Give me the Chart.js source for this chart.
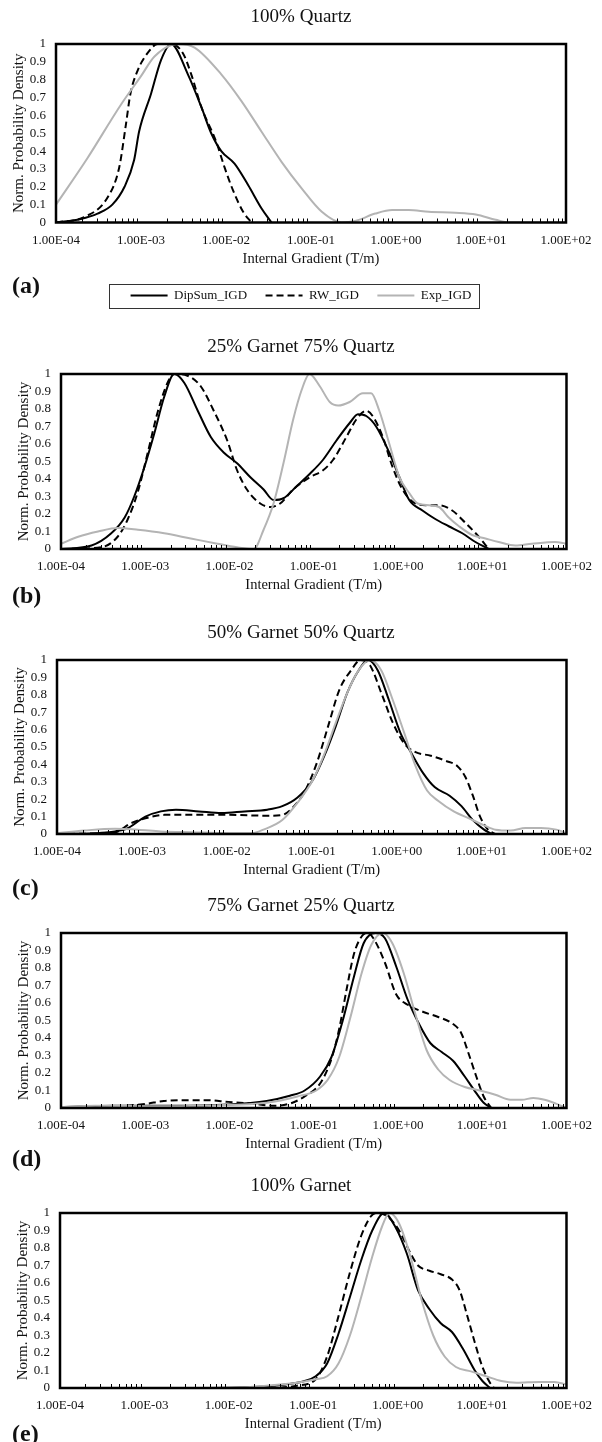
<!DOCTYPE html>
<html>
<head>
<meta charset="utf-8">
<script src="https://cdn.jsdelivr.net/npm/chart.js@4.4.1/dist/chart.umd.min.js"></script>
<style>
  html, body { margin: 0; padding: 0; background: #fff; }
  body { width: 602px; height: 1442px; position: relative; overflow: hidden; }
  canvas { position: absolute; left: 0; }
  .tag { position: absolute; left: 12px; font: bold 24px "Liberation Serif", "Times New Roman", serif; color: #111; line-height: 24px; }
</style>
</head>
<body>
<canvas id="cA"></canvas>
<canvas id="cB"></canvas>
<canvas id="cC"></canvas>
<canvas id="cD"></canvas>
<canvas id="cE"></canvas>
<script>
const seriesNames = ["DipSum_IGD", "RW_IGD", "Exp_IGD"];
const panelTitles = ["100% Quartz", "25% Garnet 75% Quartz", "50% Garnet 50% Quartz", "75% Garnet 25% Quartz", "100% Garnet"];
const panelTags = ["(a)", "(b)", "(c)", "(d)", "(e)"];
const xTickValues = [1e-4, 1e-3, 1e-2, 1e-1, 1e0, 1e1, 1e2];
const xTickLabels = ["1.00E-04", "1.00E-03", "1.00E-02", "1.00E-01", "1.00E+00", "1.00E+01", "1.00E+02"];
const xTitle = "Internal Gradient (T/m)";
const yTitle = "Norm. Probability Density";

// (a) 100% Quartz
const aDipX = [1e-4, 1.95e-4, 3.08e-4, 4.6e-4, 6.4e-4, 8.3e-4, 9.5e-4, 1.31e-3, 1.72e-3, 2.26e-3, 3.56e-3, 5.1e-3, 6.7e-3, 8.8e-3, 1.26e-2, 1.82e-2, 2.61e-2, 3.43e-2];
const aDipY = [0, 0.02, 0.05, 0.10, 0.20, 0.35, 0.51, 0.72, 0.91, 1.0, 0.83, 0.65, 0.50, 0.40, 0.33, 0.21, 0.08, 0];
const aRwX = [1e-4, 2.14e-4, 4.04e-4, 5.55e-4, 6.65e-4, 7.5e-4, 9.1e-4, 1.2e-3, 1.57e-3, 2.26e-3, 3.1e-3, 3.9e-3, 5.1e-3, 7.7e-3, 9.6e-3, 1.21e-2, 1.59e-2, 1.99e-2];
const aRwY = [0, 0.03, 0.14, 0.31, 0.55, 0.72, 0.85, 0.95, 1.0, 1.0, 0.95, 0.83, 0.65, 0.45, 0.31, 0.18, 0.06, 0];
const aExpX = [1e-4, 2.34e-4, 5.8e-4, 1.0e-3, 1.44e-3, 2.71e-3, 4.27e-3, 8.8e-3, 1.52e-2, 2.61e-2, 4.5e-2, 7.8e-2, 0.134, 0.23, 0.33, 0.57, 0.90, 1.41, 2.43, 5.0, 8.7, 14.9, 21.4, 100];
const aExpY = [0.10, 0.36, 0.66, 0.82, 0.93, 1.0, 0.98, 0.83, 0.68, 0.51, 0.34, 0.19, 0.06, 0, 0.008, 0.05, 0.07, 0.07, 0.06, 0.055, 0.045, 0.015, 0, 0];

// (b) 25% Garnet 75% Quartz
const bDipX = [1e-4, 2.3e-4, 3.95e-4, 5.7e-4, 7.4e-4, 9.8e-4, 1.28e-3, 1.68e-3, 2.21e-3, 2.9e-3, 4.2e-3, 6.0e-3, 8.6e-3, 1.23e-2, 1.77e-2, 2.54e-2, 3.33e-2, 4.37e-2, 6.3e-2, 9.0e-2, 0.129, 0.186, 0.267, 0.335, 0.42, 0.55, 0.79, 1.04, 1.36, 1.95, 2.8, 4.0, 5.8, 8.3, 11.9];
const bDipY = [0, 0.02, 0.09, 0.18, 0.30, 0.47, 0.66, 0.87, 1.0, 0.95, 0.79, 0.64, 0.55, 0.49, 0.41, 0.34, 0.28, 0.29, 0.36, 0.43, 0.51, 0.62, 0.72, 0.77, 0.76, 0.70, 0.55, 0.41, 0.28, 0.22, 0.17, 0.13, 0.09, 0.04, 0];
const bRwX = [1e-4, 3.0e-4, 4.7e-4, 6.2e-4, 8.2e-4, 1.07e-3, 1.4e-3, 1.84e-3, 2.21e-3, 3.17e-3, 4.55e-3, 6.5e-3, 9.4e-3, 1.23e-2, 1.61e-2, 2.32e-2, 3.04e-2, 3.99e-2, 5.7e-2, 9.0e-2, 0.129, 0.17, 0.244, 0.32, 0.42, 0.50, 0.66, 0.86, 1.13, 1.49, 2.14, 3.07, 4.4, 6.3, 9.1, 11.9];
const bRwY = [0, 0.01, 0.07, 0.17, 0.33, 0.55, 0.78, 0.95, 1.0, 0.99, 0.93, 0.79, 0.62, 0.45, 0.34, 0.26, 0.24, 0.26, 0.34, 0.41, 0.45, 0.51, 0.64, 0.74, 0.79, 0.76, 0.64, 0.47, 0.34, 0.27, 0.25, 0.25, 0.22, 0.15, 0.07, 0];
const bExpX = [1e-4, 1.6e-4, 2.75e-4, 4.7e-4, 8.2e-4, 1.68e-3, 3.47e-3, 7.2e-3, 1.23e-2, 1.94e-2, 2.54e-2, 3.33e-2, 4.37e-2, 5.7e-2, 7.2e-2, 8.9e-2, 0.118, 0.155, 0.195, 0.267, 0.383, 0.48, 0.60, 0.79, 1.04, 1.36, 1.71, 2.34, 3.07, 4.0, 5.3, 7.6, 10.9, 15.7, 24.6, 38.7, 73, 100];
const bExpY = [0.03, 0.07, 0.10, 0.12, 0.11, 0.09, 0.06, 0.03, 0.01, 0, 0.11, 0.26, 0.49, 0.74, 0.91, 1.0, 0.93, 0.84, 0.82, 0.84, 0.89, 0.89, 0.79, 0.60, 0.41, 0.32, 0.26, 0.25, 0.24, 0.18, 0.13, 0.08, 0.06, 0.04, 0.02, 0.03, 0.04, 0.03];

// (c) 50% Garnet 50% Quartz
const cDipX = [1e-4, 2.9e-4, 4.8e-4, 6.6e-4, 1.1e-3, 1.67e-3, 2.52e-3, 4.7e-3, 8.7e-3, 1.61e-2, 3.0e-2, 4.5e-2, 6.8e-2, 0.103, 0.141, 0.192, 0.261, 0.356, 0.46, 0.60, 0.81, 1.11, 1.51, 2.05, 2.8, 4.2, 5.8, 7.9, 10.7, 13.2];
const cDipY = [0, 0.005, 0.015, 0.03, 0.10, 0.13, 0.14, 0.13, 0.12, 0.13, 0.14, 0.16, 0.21, 0.31, 0.45, 0.62, 0.81, 0.94, 1.0, 0.94, 0.77, 0.58, 0.46, 0.35, 0.27, 0.22, 0.16, 0.08, 0.025, 0];
const cRwX = [1e-4, 4.8e-4, 7.3e-4, 1.1e-3, 1.85e-3, 3.8e-3, 1.07e-2, 3.0e-2, 4.5e-2, 6.2e-2, 8.4e-2, 0.115, 0.156, 0.212, 0.29, 0.375, 0.485, 0.66, 0.90, 1.23, 1.67, 2.52, 3.8, 5.2, 6.4, 7.9, 9.6, 11.9, 14.6];
const cRwY = [0, 0.01, 0.06, 0.09, 0.11, 0.11, 0.11, 0.105, 0.11, 0.16, 0.25, 0.41, 0.62, 0.83, 0.94, 1.0, 0.97, 0.81, 0.64, 0.52, 0.47, 0.45, 0.42, 0.39, 0.33, 0.22, 0.10, 0.025, 0];
const cExpX = [1e-4, 2.1e-4, 4.8e-4, 9.0e-4, 1.67e-3, 3.8e-3, 1.07e-2, 1.98e-2, 2.7e-2, 4.5e-2, 6.8e-2, 0.103, 0.141, 0.192, 0.261, 0.356, 0.485, 0.66, 0.90, 1.23, 1.67, 2.28, 3.1, 4.7, 7.1, 10.7, 14.6, 22, 33, 50, 76, 100];
const cExpY = [0.005, 0.02, 0.03, 0.025, 0.015, 0.01, 0.005, 0.005, 0.025, 0.08, 0.18, 0.31, 0.46, 0.64, 0.81, 0.94, 1.0, 0.94, 0.77, 0.58, 0.39, 0.25, 0.19, 0.13, 0.09, 0.05, 0.025, 0.02, 0.035, 0.035, 0.025, 0.005];

// (d) 75% Garnet 25% Quartz
const dDipX = [1e-4, 4.3e-4, 2.05e-3, 9.7e-3, 2.76e-2, 5.2e-2, 7.8e-2, 0.119, 0.162, 0.221, 0.30, 0.39, 0.54, 0.70, 0.95, 1.30, 1.78, 2.43, 3.3, 4.5, 6.2, 8.5, 10.4, 12.8];
const dDipY = [0.005, 0.013, 0.013, 0.02, 0.04, 0.07, 0.10, 0.18, 0.29, 0.50, 0.75, 0.94, 1.0, 0.97, 0.81, 0.62, 0.48, 0.37, 0.32, 0.27, 0.18, 0.085, 0.03, 0];
const dRwX = [1e-4, 4.3e-4, 9.9e-4, 1.66e-3, 2.8e-3, 5.2e-3, 9.7e-3, 1.82e-2, 3.4e-2, 5.2e-2, 7.8e-2, 0.119, 0.162, 0.20, 0.246, 0.30, 0.37, 0.435, 0.51, 0.70, 0.95, 1.30, 1.97, 3.0, 4.5, 5.6, 6.9, 8.5, 10.4, 12.8];
const dRwY = [0.003, 0.008, 0.023, 0.04, 0.045, 0.045, 0.035, 0.025, 0.013, 0.025, 0.066, 0.14, 0.28, 0.45, 0.68, 0.88, 0.98, 1.0, 0.97, 0.83, 0.65, 0.59, 0.55, 0.52, 0.48, 0.43, 0.31, 0.18, 0.066, 0];
const dExpX = [1e-4, 2.55e-4, 1.22e-3, 5.8e-3, 2.76e-2, 6.4e-2, 0.107, 0.146, 0.20, 0.273, 0.37, 0.48, 0.66, 0.86, 1.17, 1.60, 2.19, 3.0, 4.1, 6.2, 9.4, 14.3, 21.6, 29.5, 40.4, 55, 75, 100];
const dExpY = [0.005, 0.013, 0.01, 0.015, 0.03, 0.066, 0.10, 0.16, 0.29, 0.52, 0.77, 0.93, 1.0, 0.94, 0.77, 0.54, 0.33, 0.22, 0.16, 0.12, 0.10, 0.076, 0.047, 0.047, 0.057, 0.047, 0.025, 0];

// (e) 100% Garnet
const eDipX = [1e-4, 3.5e-3, 1.67e-2, 4.7e-2, 7.9e-2, 0.107, 0.146, 0.199, 0.272, 0.37, 0.50, 0.69, 0.94, 1.28, 1.74, 2.38, 3.24, 4.4, 6.0, 8.2, 10.1, 12.4];
const eDipY = [0, 0, 0.004, 0.02, 0.04, 0.067, 0.14, 0.31, 0.52, 0.73, 0.90, 1.0, 0.92, 0.77, 0.56, 0.45, 0.37, 0.32, 0.22, 0.10, 0.04, 0];
const eRwX = [1e-4, 2.8e-2, 6.4e-2, 0.107, 0.146, 0.199, 0.272, 0.37, 0.48, 0.56, 0.76, 1.04, 1.42, 1.74, 2.38, 3.24, 4.4, 5.4, 6.7, 8.2, 10.1, 12.4, 13.8];
const eRwY = [0, 0, 0.013, 0.05, 0.18, 0.41, 0.66, 0.87, 0.98, 1.0, 0.98, 0.90, 0.77, 0.70, 0.67, 0.65, 0.62, 0.56, 0.41, 0.26, 0.12, 0.03, 0];
const eExpX = [1e-4, 9.9e-3, 2.8e-2, 6.4e-2, 0.107, 0.146, 0.199, 0.272, 0.37, 0.50, 0.65, 0.80, 1.04, 1.42, 1.93, 2.64, 3.6, 4.9, 7.4, 11.2, 16.9, 25.6, 47.6, 72, 100];
const eExpY = [0, 0, 0.013, 0.03, 0.05, 0.067, 0.14, 0.30, 0.52, 0.75, 0.92, 1.0, 0.94, 0.75, 0.50, 0.30, 0.18, 0.12, 0.095, 0.067, 0.04, 0.03, 0.035, 0.035, 0.02];

const FONT = "'Liberation Serif', 'Times New Roman', serif";
const INK = "#111";
Chart.defaults.font.family = FONT;
Chart.defaults.color = INK;

const lineStyles = [
    { borderColor: "#000", borderWidth: 2, borderDash: [] },
    { borderColor: "#000", borderWidth: 2, borderDash: [7, 4] },
    { borderColor: "#b4b4b4", borderWidth: 2, borderDash: [] }
];

// plot-area placement for each panel (page pixels)
const panels = [
    { id: "cA", plotTop: 44, plotBottom: 222, plotLeft: 56, plotRight: 566, tagY: 273, legend: true,
      xs: [aDipX, aRwX, aExpX], ys: [aDipY, aRwY, aExpY] },
    { id: "cB", plotTop: 374, plotBottom: 549, plotLeft: 61, plotRight: 570, tagY: 583, legend: false,
      xs: [bDipX, bRwX, bExpX], ys: [bDipY, bRwY, bExpY] },
    { id: "cC", plotTop: 660, plotBottom: 834, plotLeft: 57, plotRight: 572, tagY: 875, legend: false,
      xs: [cDipX, cRwX, cExpX], ys: [cDipY, cRwY, cExpY] },
    { id: "cD", plotTop: 933, plotBottom: 1108, plotLeft: 61, plotRight: 572, tagY: 1146, legend: false,
      xs: [dDipX, dRwX, dExpX], ys: [dDipY, dRwY, dExpY] },
    { id: "cE", plotTop: 1213, plotBottom: 1388, plotLeft: 60, plotRight: 574, tagY: 1421, legend: false,
      xs: [eDipX, eRwX, eExpX], ys: [eDipY, eRwY, eExpY] }
];

const TITLE_BLOCK = 44;
const XAXIS_BLOCK = 48;
const LEGEND_BLOCK = 42;

// Excel-like frame plus inside minor ticks on the log axis
const framePlugin = {
    id: "frame",
    afterDatasetsDraw(chart) {
        const { ctx, chartArea: area, scales: { x } } = chart;
        ctx.save();
        ctx.strokeStyle = "#000";
        ctx.lineWidth = 1;
        for (let d = -4; d < 2; d++) {
            for (let k = 2; k <= 9; k++) {
                const px = Math.round(x.getPixelForValue(k * Math.pow(10, d))) + 0.5;
                ctx.beginPath();
                ctx.moveTo(px, area.bottom);
                ctx.lineTo(px, area.bottom - 4);
                ctx.stroke();
            }
        }
        ctx.lineWidth = 2.5;
        ctx.strokeRect(area.left, area.top, area.right - area.left, area.bottom - area.top);
        ctx.restore();
    }
};

const legendBoxPlugin = {
    id: "legendBox",
    afterDraw(chart) {
        const legend = chart.legend;
        if (!legend || !legend.options.display || !legend.legendHitBoxes.length) {
            return;
        }
        const boxes = legend.legendHitBoxes;
        const first = boxes[0];
        const last = boxes[boxes.length - 1];
        const { ctx } = chart;
        ctx.save();
        ctx.strokeStyle = "#333";
        ctx.lineWidth = 1;
        const left = Math.round(first.left - 22) + 0.5;
        const right = Math.round(last.left + last.width + 8) + 0.5;
        const top = Math.round(first.top - 5.5) + 0.5;
        const bottom = Math.round(first.top + first.height + 5.5) + 0.5;
        ctx.strokeRect(left, top, right - left, bottom - top);
        ctx.restore();
    }
};

panels.forEach((panel, index) => {
    const canvas = document.getElementById(panel.id);
    const canvasTop = panel.plotTop - TITLE_BLOCK;
    const height = (panel.plotBottom - panel.plotTop) + TITLE_BLOCK + XAXIS_BLOCK + (panel.legend ? LEGEND_BLOCK : 0);
    canvas.width = 602;
    canvas.height = height;
    canvas.style.top = canvasTop + "px";

    const tag = document.createElement("div");
    tag.className = "tag";
    tag.style.top = panel.tagY + "px";
    tag.textContent = panelTags[index];
    document.body.appendChild(tag);

    const datasets = seriesNames.map((name, i) => ({
        label: name,
        data: panel.xs[i].map((x, j) => ({ x, y: panel.ys[i][j] })),
        borderColor: lineStyles[i].borderColor,
        backgroundColor: lineStyles[i].borderColor,
        borderWidth: lineStyles[i].borderWidth,
        borderDash: lineStyles[i].borderDash,
        pointRadius: 0,
        fill: false,
        cubicInterpolationMode: "monotone",
        order: seriesNames.length - i
    }));

    new Chart(canvas, {
        type: "line",
        data: { datasets },
        options: {
            responsive: false,
            animation: false,
            events: [],
            layout: { padding: 0 },
            plugins: {
                title: {
                    display: true,
                    text: panelTitles[index],
                    color: INK,
                    font: { family: FONT, size: 19, weight: "normal" },
                    padding: { top: 5.6, bottom: 15.6 }
                },
                legend: {
                    display: panel.legend,
                    position: "bottom",
                    labels: {
                        usePointStyle: true,
                        pointStyle: "line",
                        pointStyleWidth: 37,
                        padding: 18.5,
                        color: INK,
                        font: { family: FONT, size: 13 },
                        sort: (a, b) => a.datasetIndex - b.datasetIndex,
                        generateLabels: (chart) => Chart.defaults.plugins.legend.labels.generateLabels(chart).map((item) => {
                            const ds = chart.data.datasets[item.datasetIndex];
                            return { ...item, lineDash: ds.borderDash, lineWidth: ds.borderWidth, strokeStyle: ds.borderColor, pointStyle: "line" };
                        })
                    }
                },
                tooltip: { enabled: false }
            },
            scales: {
                x: {
                    type: "logarithmic",
                    position: "bottom",
                    min: xTickValues[0],
                    max: xTickValues[xTickValues.length - 1],
                    afterBuildTicks: (scale) => {
                        scale.ticks = xTickValues.map((value) => ({ value }));
                    },
                    afterFit: (scale) => {
                        scale.height = XAXIS_BLOCK;
                    },
                    ticks: {
                        autoSkip: false,
                        maxRotation: 0,
                        minRotation: 0,
                        padding: 10,
                        color: INK,
                        font: { family: FONT, size: 13 },
                        callback: (value, i) => xTickLabels[i]
                    },
                    grid: { display: false, drawTicks: false },
                    border: { display: false },
                    title: {
                        display: true,
                        text: xTitle,
                        color: INK,
                        font: { family: FONT, size: 14.5 },
                        padding: { top: 0, bottom: 3 }
                    }
                },
                y: {
                    position: "left",
                    min: 0,
                    max: 1,
                    afterFit: (scale) => {
                        scale.width = panel.plotLeft;
                    },
                    ticks: {
                        stepSize: 0.1,
                        autoSkip: false,
                        padding: 10,
                        color: INK,
                        font: { family: FONT, size: 13 },
                        callback: (value) => String(Math.round(value * 10) / 10)
                    },
                    grid: { display: false, drawTicks: false },
                    border: { display: false },
                    title: {
                        display: true,
                        text: yTitle,
                        color: INK,
                        font: { family: FONT, size: 15 },
                        padding: { top: panel.plotLeft - 46, bottom: 0 }
                    }
                },
                yRight: {
                    position: "right",
                    display: true,
                    afterFit: (scale) => {
                        scale.width = 602 - panel.plotRight;
                    },
                    ticks: { display: false },
                    grid: { display: false, drawTicks: false },
                    border: { display: false }
                }
            }
        },
        plugins: [framePlugin, legendBoxPlugin]
    });
});
</script>
</body>
</html>
